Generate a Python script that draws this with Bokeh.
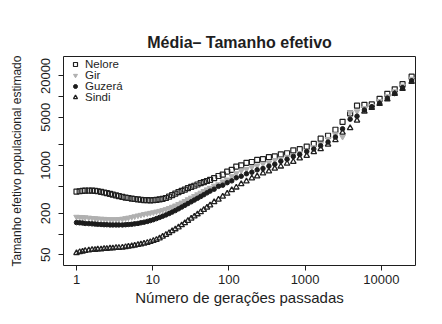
from bokeh.plotting import figure
from bokeh.models import (Range1d, FixedTicker, Legend, LegendItem,
                          ColumnDataSource, NumeralTickFormatter)
from bokeh.embed import file_html
from bokeh.resources import INLINE

# ---- data -------------------------------------------------------------
generations = [1.0, 1.1, 1.2, 1.3, 1.45, 1.6, 1.75, 1.9, 2.1, 2.3,
               2.5, 2.75, 3.0, 3.3, 3.6, 4.0, 4.4, 4.8, 5.3, 5.8,
               6.4, 7.0, 7.7, 8.5, 9.3, 10.2, 11.2, 12.3, 13.5, 14.9,
               16.4, 18.0, 19.8, 21.8, 24.0, 26.4, 29.0, 32.0, 35.2, 38.7,
               42.6, 46.8, 51.5, 56.6,
               64, 73, 83, 95, 109, 125, 145, 170, 200, 235,
               280, 335, 400, 480, 580, 700, 850, 1050, 1300, 1600,
               2000, 2500, 3100, 3900, 4800, 6000, 7500, 9500, 12000, 15000,
               19000, 25000]

ne_nelore = [415, 420, 425, 428, 430, 430, 426, 420, 412, 403,
             395, 385, 375, 365, 356, 347, 340, 335, 329, 324,
             319, 316, 313, 311, 310, 311, 314, 319, 326, 335,
             350, 368, 388, 408, 426, 445, 465, 485, 505, 527,
             550, 570, 592, 615,
             650, 700, 735, 810, 860, 960, 1000, 1090, 1120, 1200,
             1230, 1320, 1350, 1450, 1500, 1650, 1720, 1880, 2050, 2450,
             2700, 3300, 4300, 5700, 7400, 7600, 7700, 9300, 11000, 12800,
             15200, 19500]

ne_gir = [178, 177, 176, 175, 173, 171, 170, 168, 167, 166,
          165, 164, 164, 164, 165, 167, 170, 173, 177, 181,
          186, 190, 195, 199, 203, 207, 212, 217, 223, 230,
          239, 249, 260, 273, 287, 302, 320, 338, 357, 378,
          400, 422, 446, 470,
          505, 530, 580, 620, 695, 765, 835, 880, 945, 995,
          1055, 1095, 1190, 1250, 1330, 1380, 1510, 1620, 1830, 2040,
          2420, 2820, 2600, 5900, 6100, 6800, 7300, 8600, 10100, 11900,
          14400, 18200]

ne_guzera = [147, 146, 145, 143, 142, 141, 140, 139, 138, 137,
             137, 136, 136, 136, 136, 136, 137, 138, 139, 141,
             143, 146, 149, 153, 157, 162, 168, 175, 182, 190,
             199, 209, 220, 233, 247, 262, 278, 295, 313, 332,
             352, 374, 398, 422,
             450, 495, 515, 560, 595, 660, 695, 755, 795, 860,
             900, 975, 1040, 1150, 1230, 1350, 1440, 1590, 1730, 1930,
             2180, 2580, 3400, 4700, 5200, 6400, 7100, 8000, 9500, 11100,
             13500, 17000]

ne_sindi = [53, 55, 56, 57, 58, 59, 59, 60, 60, 61,
            61, 62, 62, 63, 63, 64, 65, 66, 67, 68,
            70, 71, 73, 75, 77, 80, 83, 87, 92, 98,
            104, 111, 118, 126, 135, 145, 156, 168, 181, 195,
            210, 226, 244, 262,
            292, 318, 352, 388, 438, 478, 535, 585, 650, 695,
            765, 820, 900, 965, 1060, 1130, 1270, 1380, 1560, 1730,
            2010, 2330, 3000, 3500, 4500, 6100, 6900, 7900, 9200, 11000,
            13000, 16500]

series_names = ["Nelore", "Gir", "Guzerá", "Sindi"]
x_ticks = [1, 10, 100, 1000, 10000]
y_ticks = [50, 200, 1000, 5000, 20000]
y_minor_ticks = [100, 500, 2000, 10000]

# ---- figure -----------------------------------------------------------
FONT = "Liberation Sans"
INK = "#1e1e1e"

p = figure(width=426, height=308, x_axis_type="log", y_axis_type="log",
           x_range=Range1d(0.675, 28100), y_range=Range1d(34.9, 38400),
           output_backend="svg", toolbar_location=None,
           min_border_left=63, min_border_right=11,
           min_border_top=56, min_border_bottom=38,
           title="Média– Tamanho efetivo")
p.title.align = "center"
p.title.text_font = FONT
p.title.text_font_size = "16px"
p.title.text_font_style = "bold"
p.title.text_color = INK
p.title.standoff = 12

p.xgrid.visible = False
p.ygrid.visible = False
p.outline_line_color = INK
p.outline_line_width = 1

for ax in (p.xaxis[0], p.yaxis[0]):
    ax.axis_line_color = None
    ax.major_tick_line_color = INK
    ax.minor_tick_line_color = INK
    ax.major_tick_out = 5
    ax.major_tick_in = 0
    ax.minor_tick_out = 5
    ax.minor_tick_in = 0
    ax.major_label_text_font = FONT
    ax.major_label_text_font_size = "13px"
    ax.major_label_text_color = INK
    ax.axis_label_text_font = FONT
    ax.axis_label_text_font_style = "normal"
    ax.axis_label_text_color = INK
    ax.formatter = NumeralTickFormatter(format="0")

p.xaxis.ticker = FixedTicker(ticks=x_ticks, minor_ticks=[])
p.yaxis.ticker = FixedTicker(ticks=y_ticks, minor_ticks=y_minor_ticks)
p.xaxis.axis_label = "Número de gerações passadas"
p.yaxis.axis_label = "Tamanho efetivo populacional estimado"
p.xaxis.axis_label_text_font_size = "15px"
p.yaxis.axis_label_text_font_size = "12px"
p.xaxis.major_label_standoff = 4
p.xaxis.axis_label_standoff = 2
p.yaxis.major_label_orientation = "vertical"
p.yaxis.major_label_standoff = 8
p.yaxis.axis_label_standoff = 15

src = ColumnDataSource(dict(g=generations, nelore=ne_nelore, gir=ne_gir,
                            guzera=ne_guzera, sindi=ne_sindi))

r_nel = p.scatter("g", "nelore", source=src, marker="square", size=5,
                  fill_color=None, line_color="#202020", line_width=1.2)
r_gir = p.scatter("g", "gir", source=src, marker="inverted_triangle", size=5.5,
                  fill_color="#b0b0b0", line_color="#b0b0b0", line_width=1)
r_guz = p.scatter("g", "guzera", source=src, marker="circle", size=4.5,
                  fill_color="#1c1c1c", line_color="#1c1c1c", line_width=1)
r_sin = p.scatter("g", "sindi", source=src, marker="triangle", size=5.5,
                  fill_color=None, line_color="#202020", line_width=1.3)

renderers = [r_nel, r_gir, r_guz, r_sin]
frame_h = 308 - 56 - 38
for i, (name, r) in enumerate(zip(series_names, renderers)):
    lg = Legend(items=[LegendItem(label=name, renderers=[r])],
                location=(7, frame_h - 19 - 11 * i))
    lg.border_line_color = None
    lg.background_fill_alpha = 0
    lg.label_text_font = FONT
    lg.label_text_font_size = "11.5px"
    lg.label_text_color = INK
    lg.label_height = 10
    lg.glyph_height = 10
    lg.glyph_width = 10
    lg.spacing = 0
    lg.padding = 0
    lg.margin = 0
    lg.label_standoff = 5
    p.add_layout(lg)

open("out.html", "w").write(file_html(p, INLINE))
